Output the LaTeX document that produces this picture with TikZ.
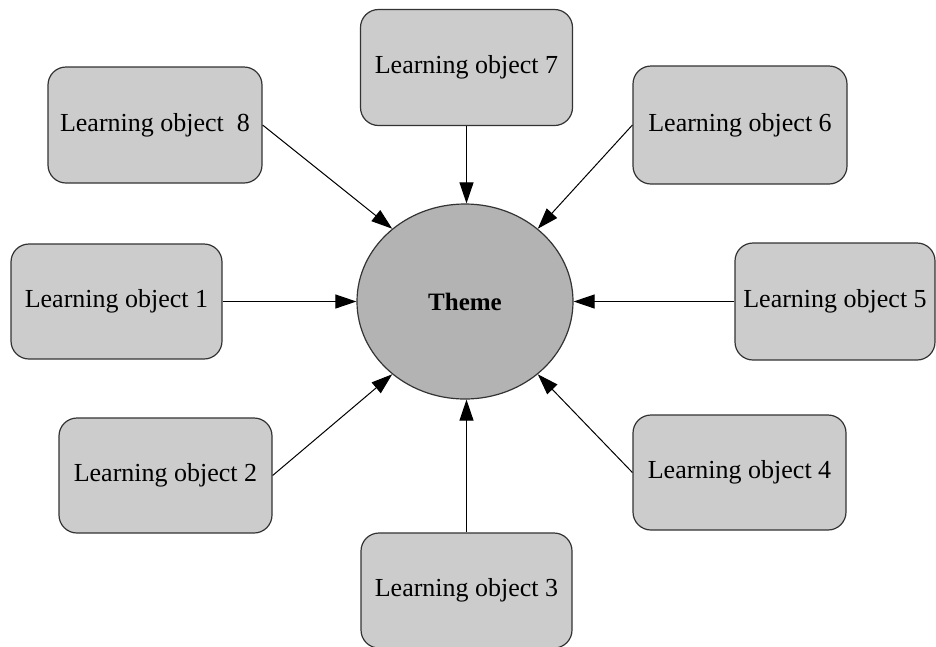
\documentclass[tikz,border=0pt]{standalone}
\usepackage{fontspec}
\setmainfont{Liberation Serif}
\usetikzlibrary{arrows.meta,shapes.geometric}
\definecolor{boxfill}{HTML}{CCCCCC}
\definecolor{themefill}{HTML}{B3B3B3}
\definecolor{outline}{HTML}{333333}
\begin{document}
\begin{tikzpicture}[x=1pt,y=-1pt,
  lobox/.style={draw=outline, line width=1.2pt, fill=boxfill, rounded corners=18pt,
    inner sep=0pt, minimum width=212pt, minimum height=116pt,
    font=\fontsize{26}{30}\selectfont},
  theme/.style={draw=outline, line width=1.2pt, fill=themefill, ellipse,
    inner sep=0pt, minimum width=216pt, minimum height=195pt,
    font=\bfseries\fontsize{25}{30}\selectfont},
  link/.style={draw=black, line width=1pt, -{Triangle[length=21pt,width=14pt]}}]
\useasboundingbox (0,0) rectangle (936,646);

% central theme
\node[theme] (th) at (465,301.5) {Theme};

% learning objects around it
\node[lobox] (lo7) at (466.5,67.5) {Learning object 7};
\node[lobox, minimum width=214pt] (lo8) at (155,125) {Learning object\ \ 8};
\node[lobox, minimum width=214pt, minimum height=118pt] (lo6) at (740,125) {Learning object 6};
\node[lobox, minimum width=211pt, minimum height=115pt] (lo1) at (116.5,301.5) {Learning object 1};
\node[lobox, minimum width=200pt, minimum height=117pt] (lo5) at (835,301.5) {Learning object 5};
\node[lobox, minimum width=213pt, minimum height=115pt] (lo2) at (165.5,475.5) {Learning object 2};
\node[lobox, minimum width=213pt, minimum height=115pt] (lo4) at (739.5,472.5) {Learning object 4};
\node[lobox, minimum width=211pt, minimum height=115pt] (lo3) at (466.5,590.5) {Learning object 3};

% connectors into the theme
\draw[link] (lo7.south) -- (lo7.south |- th.north);
\draw[link] (lo3.north) -- (lo3.north |- th.south);
\draw[link] (lo1.east) -- (th.west);
\draw[link] (lo5.west) -- (th.east);
\draw[link] (lo8.east) -- (th.135);
\draw[link] (lo6.west) -- (th.45);
\draw[link] (lo2.east) -- (th.225);
\draw[link] (lo4.west) -- (th.315);
\end{tikzpicture}
\end{document}
